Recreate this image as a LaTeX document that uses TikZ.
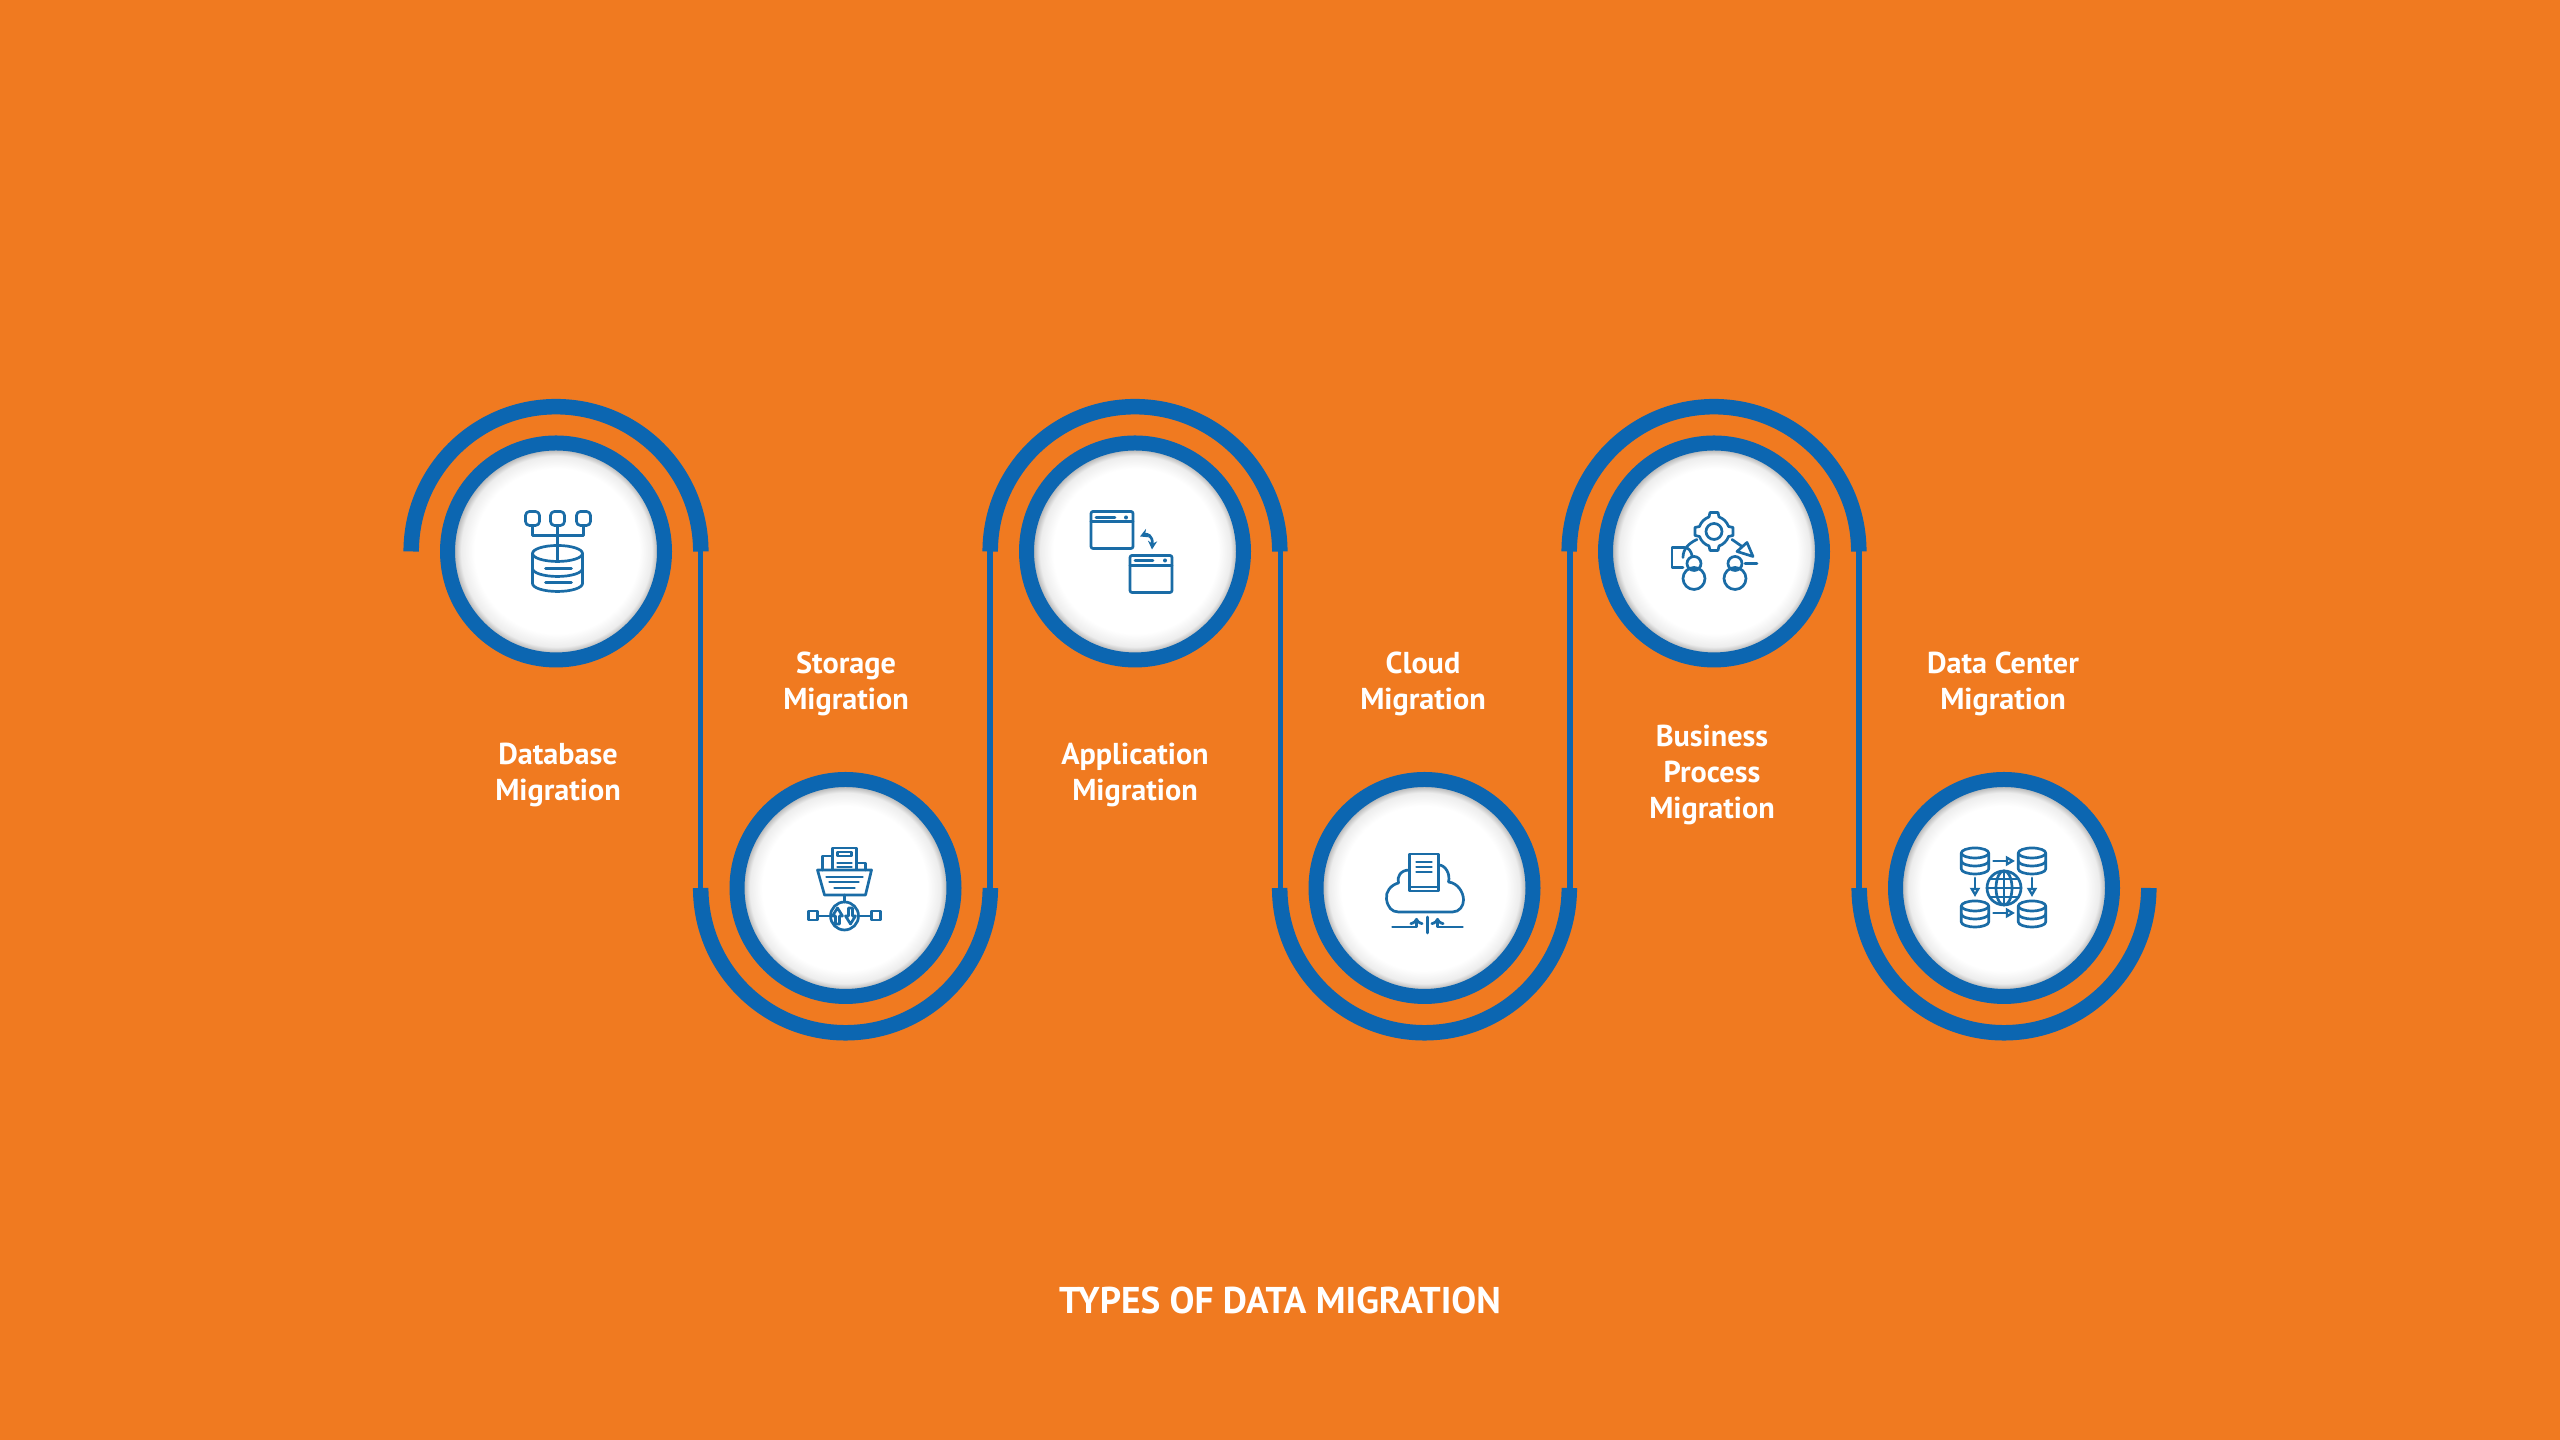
\documentclass[tikz,border=0pt]{standalone}
\usepackage{fontspec}
\usepackage{xcolor}
\setmainfont{PT Sans}
\usetikzlibrary{positioning,calc,shadings,arrows.meta}
\definecolor{bgorange}{HTML}{F07A20}
\definecolor{ringblue}{HTML}{0C66B1}
\definecolor{iconblue}{HTML}{1A6CA6}
\definecolor{rimgrey}{HTML}{9A9A9A}
\pgfdeclareradialshading{rimupper}{\pgfpoint{0.9bp}{0.4bp}}{color(0bp)=(white);color(19bp)=(white);color(22bp)=(white!82!rimgrey);color(24.2bp)=(rimgrey)}
\pgfdeclareradialshading{rimlower}{\pgfpoint{-0.9bp}{-0.4bp}}{color(0bp)=(white);color(19bp)=(white);color(22bp)=(white!82!rimgrey);color(24.2bp)=(rimgrey)}

\begin{document}
\begin{tikzpicture}[x=0.1mm,y=0.1mm,font=\bfseries\fontsize{8.6}{10.3}\selectfont,
		hub/.style={circle, draw=ringblue, line width=1.5mm, minimum size=21.7mm, inner sep=0pt},
		bigarc/.style={draw=ringblue, line width=1.55mm},
		link/.style={draw=ringblue, line width=0.52mm},
		caption/.style={text=white, align=center, inner sep=0pt},
		icon/.style={draw=iconblue, line width=0.27mm, line join=round, line cap=round},
		tip/.style={-{Stealth[length=2.6pt,width=2.8pt]}},
		opentip/.style={-{Stealth[open,length=2.6pt,width=2.8pt,inset=0pt]}}]

	\fill[bgorange] (0,0) rectangle (2560,1440);
	\useasboundingbox (0,0) rectangle (2560,1440);

	\foreach \i/\x in {1/556, 3/1135, 5/1714}{
		\node[hub, shading=rimupper] (hub\i) at (\x,888.5) {};
		\draw[bigarc] ($(hub\i)+(-144.8,0)$) arc (180:0:14.48mm);
	}
	\foreach \i/\x in {2/845.5, 4/1424.5, 6/2004}{
		\node[hub, shading=rimlower] (hub\i) at (\x,552) {};
		\draw[bigarc] ($(hub\i)+(-144.8,0)$) arc (180:360:14.48mm);
	}
	\foreach \i/\x in {1/700.5, 2/990, 3/1280.5, 4/1570, 5/1859}{
		\coordinate (top\i) at (\x,888.5);
		\coordinate (bot\i) at (\x,552);
		\draw[link] (top\i) -- (bot\i);
	}

	\node[caption] (dbText) at (558,665) {Database\\Migration};
	\node[caption] (storeText) at (846,756) {Storage\\Migration};
	\node[caption] (appText) at (1135,665) {Application\\Migration};
	\node[caption] (cloudText) at (1423,756) {Cloud\\Migration};
	\node[caption] (bizText) at (1712,665) {Business\\Process\\Migration};
	\node[caption] (dcText) at (2003,756) {Data Center\\Migration};
	\node[caption, font=\bfseries\fontsize{10.6}{12}\selectfont] (title) at (1280,140) {TYPES OF DATA MIGRATION};

	\begin{scope}[shift={($(hub1)+(1.5,0)$)}]
		\foreach \x in {-25,0,26}{
			\draw[icon, rounded corners=0.4mm] (\x-7,26) rectangle (\x+7,40);
		}
		\draw[icon] (-25,26) -- (-25,16) -- (26,16) -- (26,26);
		\draw[icon] (0,26) -- (0,-9);
		\draw[icon] (0,-2) ellipse (2.5mm and 0.8mm);
		\draw[icon] (-25,-2) -- (-25,-32) arc (180:360:2.5mm and 0.8mm) -- (25,-2);
		\draw[icon] (-25,-17) arc (180:360:2.5mm and 0.8mm);
		\draw[icon] (-12,-17) -- (14,-17);
		\draw[icon] (-12,-31) -- (14,-31);
	\end{scope}

	\begin{scope}[shift={(hub2)}]
		\draw[icon] (-28,18) -- (26,18) -- (20,-7) -- (-21,-7) -- cycle;
		\draw[icon] (-13,18) rectangle (11,40);
		\draw[icon] (-13,32) -- (-23,32) -- (-23,18);
		\draw[icon] (11,25) -- (20,25) -- (20,18);
		\draw[icon] (-8,32) rectangle (6,36);
		\draw[icon] (-8,25) -- (6,25);
		\draw[icon] (-8,21) -- (6,21);
		\draw[icon] (-19,11) -- (17,11);
		\draw[icon] (-16,6) -- (13,6);
		\draw[icon] (-11,0) -- (9,0);
		\draw[icon] (-1,-7) -- (-1,-14);
		\draw[icon] (-1,-28) circle (1.4mm);
		\draw[icon] (-37,-32) rectangle (-28,-23);
		\draw[icon] (26,-32) rectangle (35,-23);
		\draw[icon] (-28,-28) -- (-15,-28);
		\draw[icon] (13,-28) -- (26,-28);
		\draw[icon] (-10,-36) -- (-10,-28) -- (-13,-28) -- (-8,-20) -- (-3,-28) -- (-6,-28) -- (-6,-36) -- cycle;
		\draw[icon] (3,-20) -- (3,-28) -- (0,-28) -- (5,-36) -- (10,-28) -- (7,-28) -- (7,-20) -- cycle;
	\end{scope}

	\begin{scope}[shift={(hub3)}]
		\draw[icon, rounded corners=0.2mm] (-44,3) rectangle (-2,40);
		\draw[icon] (-44,30) -- (-2,30);
		\draw[icon] (-39,34) -- (-20,34);
		\fill[iconblue] (-9,34) circle (0.2mm);
		\draw[icon, rounded corners=0.2mm] (-5,-41) rectangle (37,-4);
		\draw[icon] (-5,-14) -- (37,-14);
		\draw[icon] (0,-9) -- (18,-9);
		\fill[iconblue] (30,-9) circle (0.2mm);
		\draw[icon,{Stealth[length=2.4pt,width=2.6pt]}-{Stealth[length=2.4pt,width=2.6pt]}] (5,15) .. controls (12,18) and (18,16) .. (17,2);
	\end{scope}

	\begin{scope}[shift={(hub4)}]
		\draw[icon] (-15,-3) -- (-15,34) -- (14,34) -- (14,-3) -- cycle;
		\draw[icon] (-15,1) -- (14,1);
		\draw[icon] (-8,26) -- (7,26);
		\draw[icon] (-8,21) -- (7,21);
		\draw[icon] (-8,16) -- (7,16);
		\draw[icon] (-15,18) .. controls (-24,18) and (-28,11) .. (-26,5)
			.. controls (-34,3) and (-39,-4) .. (-38,-11)
			.. controls (-37,-19) and (-33,-24) .. (-26,-24) -- (28,-24)
			.. controls (35,-24) and (39,-18) .. (39,-12)
			.. controls (39,-4) and (33,5) .. (24,6)
			.. controls (26,14) and (21,23) .. (14,23);
		\draw[icon,-{To[length=2pt,width=4pt]}] (-32,-39) -- (-8,-39) -- (-8,-30);
		\draw[icon,-{To[length=2pt,width=4pt]}] (38,-39) -- (13,-39) -- (13,-30);
		\draw[icon] (3,-29) -- (3,-45);
	\end{scope}

	\begin{scope}[shift={(hub5)}]
		\begin{scope}[shift={(0,20)}]
			\draw[icon] (0,0) circle (0.8mm);
			\foreach \a in {0,90,180,270}{
				\draw[icon,rotate=\a] (-5,14.5) -- (-4,19) -- (4,19) -- (5,14.5) arc (71:19:1.53mm);
			}
		\end{scope}
		\draw[icon] (-31,-16) -- (-42,-16) -- (-42,4) -- (-30,4);
		\draw[icon] (-17,12) .. controls (-26,8) and (-31,2) .. (-31,-6);
		\draw[icon] (-30,4) .. controls (-25,4) and (-23,0) .. (-22,-4);
		\foreach \x in {-20,21}{
			\draw[icon] (\x,-12) circle (0.7mm);
			\draw[icon] (\x,-27) circle (1.1mm);
		}
		\draw[icon] (33,9) -- (39,-5) -- (23,0) -- cycle;
		\draw[icon] (18,12) -- (28,5);
		\draw[icon] (31,-12) -- (43,-12);
	\end{scope}

	\begin{scope}[shift={(hub6)}]
		\foreach \x/\y in {-29/27, 28/27, -29/-26, 28/-26}{
			\begin{scope}[shift={(\x,\y)}]
				\draw[icon] (0,8) ellipse (1.37mm and 0.5mm);
				\draw[icon] (-13.7,8) -- (-13.7,-8) arc (180:360:1.37mm and 0.5mm) -- (13.7,8);
				\draw[icon] (-13.7,0) arc (180:360:1.37mm and 0.5mm);
			\end{scope}
		}
		\draw[icon] (0,0) circle (1.7mm);
		\draw[icon] (0,0) ellipse (0.8mm and 1.7mm);
		\draw[icon] (0,17) -- (0,-17);
		\draw[icon] (-17,0) -- (17,0);
		\draw[icon] (-14,9) -- (14,9);
		\draw[icon] (-14,-9) -- (14,-9);
		\draw[icon,opentip] (-10.5,27) -- (11,27);
		\draw[icon,opentip] (-10.5,-25) -- (11,-25);
		\draw[icon,opentip] (-29,10) -- (-29,-9);
		\draw[icon,opentip] (28,10) -- (28,-9);
	\end{scope}
\end{tikzpicture}
\end{document}
